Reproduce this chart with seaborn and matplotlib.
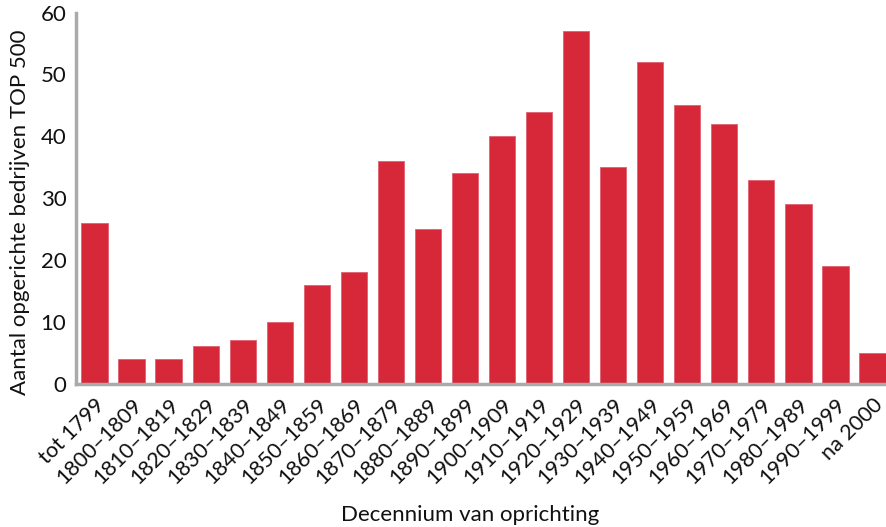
import matplotlib
matplotlib.use("Agg")
import matplotlib.pyplot as plt
import seaborn as sns
import pandas as pd
import numpy as np

categories = ["tot 1799", "1800–1809", "1810–1819", "1820–1829", "1830–1839",
              "1840–1849", "1850–1859", "1860–1869", "1870–1879", "1880–1889",
              "1890–1899", "1900–1909", "1910–1919", "1920–1929", "1930–1939",
              "1940–1949", "1950–1959", "1960–1969", "1970–1979", "1980–1989",
              "1990–1999", "na 2000"]
counts = [26, 4, 4, 6, 7, 10, 16, 18, 36, 25, 34, 40, 44, 57, 35, 52, 45, 42, 33, 29, 19, 5]
y_ticks = [0, 10, 20, 30, 40, 50, 60]

sns.set_theme(style="white")
plt.rcParams["font.family"] = ["Lato", "DejaVu Sans"]

df = pd.DataFrame({"decennium": categories, "aantal": counts})

fig = plt.figure(figsize=(8.86, 5.27), dpi=100)
ax = fig.add_axes([76 / 886, 1 - 383.5 / 527, 815 / 886, 370.8 / 527])

sns.barplot(data=df, x="decennium", y="aantal", color="#D7283A", saturation=1,
            width=0.71, edgecolor="#E06070", linewidth=0.6, ax=ax)

ax.set_ylim(0, 60)
ax.set_xlim(-0.5, len(categories) - 0.5)
ax.set_yticks(y_ticks)
ax.set_yticklabels([str(v) for v in y_ticks], fontsize=16, color="#111111")

ax.set_xticks(range(len(categories)))
ax.set_xticklabels(categories, rotation=45, ha="right", rotation_mode="anchor",
                   fontsize=15.5, color="#111111")
ax.tick_params(axis="x", which="major", length=0, pad=8)
ax.set_xticks(np.arange(-0.5, len(categories), 1.0), minor=True)
ax.tick_params(axis="x", which="minor", length=5, width=2, color="#AAAAAA", direction="out")
ax.tick_params(axis="y", length=0, pad=7)

for side in ["top", "right"]:
    ax.spines[side].set_visible(False)
for side in ["left", "bottom"]:
    ax.spines[side].set_color("#AAAAAA")
    ax.spines[side].set_linewidth(2.5)

ax.set_ylabel("Aantal opgerichte bedrijven TOP 500", fontsize=16, color="#111111")
ax.yaxis.set_label_coords(-(76 - 20) / 815, (383.5 - 212) / 370.8)
ax.yaxis.label.set_va("center")
ax.set_xlabel("Decennium van oprichting", fontsize=16, color="#111111")
ax.xaxis.set_label_coords((470 - 76) / 815, -(515 - 383.5) / 370.8)
ax.xaxis.label.set_va("center")

fig.savefig("out.png", dpi=100)
